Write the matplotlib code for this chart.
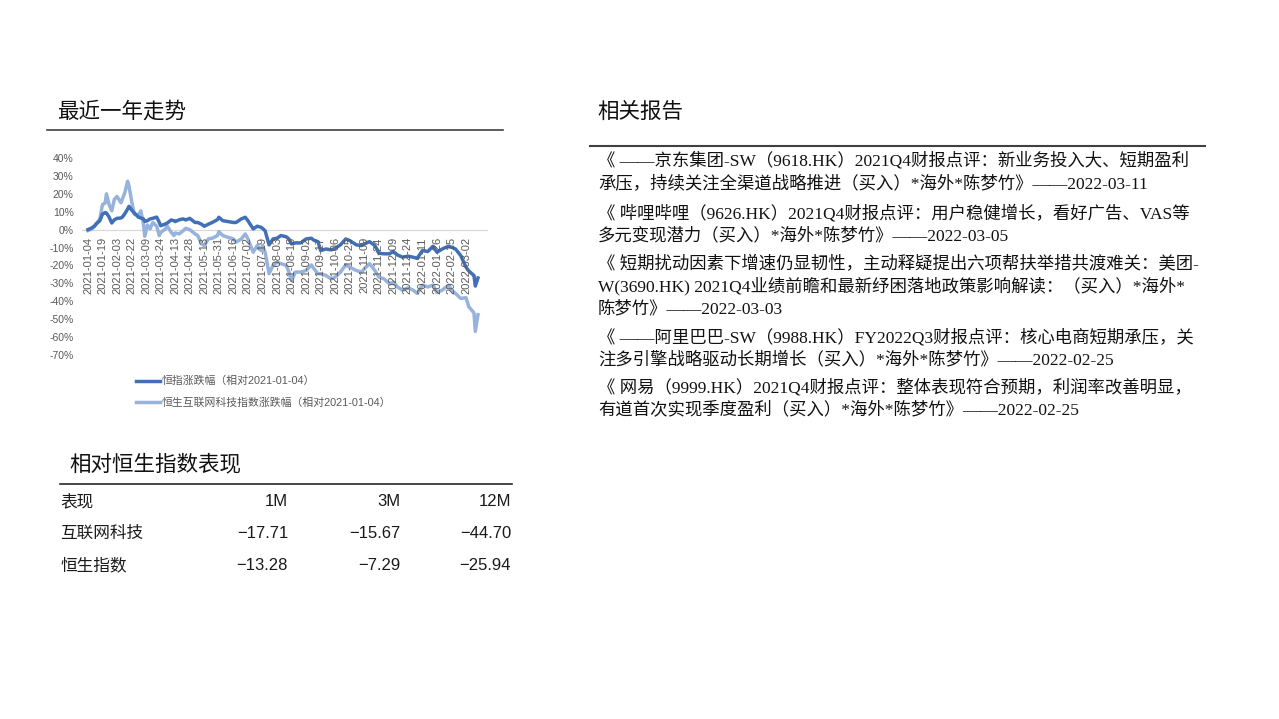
import matplotlib
matplotlib.use('Agg')
import matplotlib.pyplot as plt
from matplotlib.lines import Line2D
from matplotlib.ticker import FuncFormatter

plt.rcParams['font.family'] = ['Liberation Sans', 'Noto Sans CJK SC']
plt.rcParams['axes.unicode_minus'] = False

W, H = 1279, 719

# trading-day index since 2021-01-04 and the readings (%) at those days
day_idx = [0, 3, 5, 6, 9, 11, 13, 14, 16, 18, 20, 22, 25, 26, 28, 30, 31, 33, 35, 37,
           38, 40, 42, 43, 45, 47, 49, 52, 54, 55, 58, 60, 63, 65, 66, 69, 72, 74, 77, 81,
           83, 86, 88, 91, 94, 98, 99, 102, 106, 110, 112, 116, 119, 121, 125, 128, 131, 132, 134, 137,
           140, 143, 146, 150, 152, 154, 157, 161, 165, 169, 171, 174, 176, 180, 184, 187, 191, 195, 198, 203,
           207, 209, 213, 217, 220, 224, 228, 231, 234, 238, 242, 246, 249, 253, 257, 261, 264, 268, 271, 273,
           275, 278, 282, 286, 288, 291, 292, 293, 295]
hsi_pct = [0, 1, 2, 3, 5, 8.7, 9.5, 9.3, 7, 3.7, 5.5, 6.3, 6.5, 7, 9, 11.5, 13, 11, 9.3, 8,
           7, 6.5, 6, 4.6, 5, 6, 6.3, 7, 4, 2.2, 3, 3.7, 5.4, 5, 4.5, 5.5, 6, 5.4, 6.3, 4,
           4, 3, 1.9, 3, 4, 5.6, 6.9, 5, 4.5, 4, 4, 6, 6.9, 5, 0.4, 1.9, 1.3, 0.7, -0.6, -8.5,
           -5.2, -4.8, -3.3, -4, -5.2, -8, -7.4, -7.4, -5.2, -4.8, -6, -6.7, -11.7, -10.8, -11.3, -10.4, -8.5, -5.2, -6.1, -8.5,
           -8.9, -8, -6.7, -8.9, -13.2, -13.5, -13.5, -12.2, -14.1, -15.4, -14.8, -15.4, -16, -11.7, -12.2, -9.3, -12.6, -10.8, -9.8, -9.3,
           -9.8, -10.8, -14.5, -21, -23, -25, -25.6, -31.5, -27]
tech_pct = [-0.5, 0.4, 2, 3, 6, 14, 14.8, 20, 14, 10.5, 17, 18.5, 15, 17, 20.9, 27, 24.5, 16, 8.7, 8,
            7.8, 10.5, 3, -3.7, 2.6, 0.4, 4, 1.9, -3.3, -1.5, 0, 1.9, -1.5, -3.3, -1.9, -2.4, -0.6, 0.7, 0, -2.4,
            -3.3, -8, -8.9, -5.2, -4.8, -3.3, -1.1, -3.3, -4.3, -5.2, -7, -5.2, -2.4, -5.2, -12.6, -8.9, -11.7, -8.9, -12.6, -24.6,
            -20, -18.2, -19, -20, -23.7, -28.4, -23.7, -23.7, -22.8, -19.7, -21.9, -24.6, -24.6, -25.6, -27.5, -26.5, -23.7, -19.7, -21, -22.8,
            -23.7, -21.9, -19, -22.8, -26.5, -27.5, -30.2, -29.3, -32, -33.8, -32.5, -33.8, -35.6, -31, -32, -31, -35.1, -33.8, -32, -31,
            -33.8, -35.6, -38.4, -38, -43, -45.6, -46.6, -56.8, -47.5]

tick_labels = ['2021-01-04', '2021-01-19', '2021-02-03', '2021-02-22', '2021-03-09', '2021-03-24',
               '2021-04-13', '2021-04-28', '2021-05-13', '2021-05-31', '2021-06-16', '2021-07-02',
               '2021-07-19', '2021-08-03', '2021-08-18', '2021-09-02', '2021-09-17', '2021-10-06',
               '2021-10-25', '2021-11-09', '2021-11-24', '2021-12-09', '2021-12-24', '2022-01-11',
               '2022-01-26', '2022-02-15', '2022-03-02']
tick_step = 11

legend_labels = ['恒指涨跌幅（相对2021-01-04）', '恒生互联网科技指数涨跌幅（相对2021-01-04）']

table_cols = ['表现', '1M', '3M', '12M']
table_rows = ['互联网科技', '恒生指数']
table_vals = [['−17.71', '−15.67', '−44.70'],
              ['−13.28', '−7.29', '−25.94']]

reports = [
    ['《 ——京东集团-SW（9618.HK）2021Q4财报点评：新业务投入大、短期盈利',
     '承压，持续关注全渠道战略推进（买入）*海外*陈梦竹》——2022-03-11'],
    ['《 哔哩哔哩（9626.HK）2021Q4财报点评：用户稳健增长，看好广告、VAS等',
     '多元变现潜力（买入）*海外*陈梦竹》——2022-03-05'],
    ['《 短期扰动因素下增速仍显韧性，主动释疑提出六项帮扶举措共渡难关：美团-',
     'W(3690.HK) 2021Q4业绩前瞻和最新纾困落地政策影响解读：（买入）*海外*',
     '陈梦竹》——2022-03-03'],
    ['《 ——阿里巴巴-SW（9988.HK）FY2022Q3财报点评：核心电商短期承压，关',
     '注多引擎战略驱动长期增长（买入）*海外*陈梦竹》——2022-02-25'],
    ['《 网易（9999.HK）2021Q4财报点评：整体表现符合预期，利润率改善明显，',
     '有道首次实现季度盈利（买入）*海外*陈梦竹》——2022-02-25'],
]

dark_blue = '#4270B6'
light_blue = '#97B2DC'
grey = '#595959'


def fx(x):
    return x / W


def fy(y):
    return 1 - y / H


fig = plt.figure(figsize=(W / 100, H / 100), dpi=100)
fig.patch.set_facecolor('white')

# section titles and rules
fig.text(fx(57), fy(112), '最近一年走势', fontsize=15.5, va='center', color='#111111')
fig.add_artist(Line2D([fx(47), fx(503)], [fy(130), fy(130)], color='#404040', lw=1.2))
fig.text(fx(597), fy(112), '相关报告', fontsize=15.5, va='center', color='#111111')
fig.add_artist(Line2D([fx(590), fx(1205)], [fy(146), fy(146)], color='#404040', lw=1.5))
fig.text(fx(69), fy(465), '相对恒生指数表现', fontsize=15.5, va='center', color='#111111')
fig.add_artist(Line2D([fx(60), fx(512)], [fy(484), fy(484)], color='#262626', lw=1.2))

# chart
ax = fig.add_axes([fx(82), fy(355), fx(488 - 82), (355 - 158) / H])
ax.plot(day_idx, [v / 100 for v in tech_pct], color=light_blue, lw=2.5, solid_joinstyle='round')
ax.plot(day_idx, [v / 100 for v in hsi_pct], color=dark_blue, lw=2.5, solid_joinstyle='round')
ax.axhline(0, color='#D9D9D9', lw=0.9, zorder=0)
ax.set_xlim(-4.5, 302.6)
ax.set_ylim(-0.7, 0.4)
ax.set_yticks([i / 10 for i in range(-7, 5)])
ax.yaxis.set_major_formatter(FuncFormatter(lambda v, p: '{:.0f}%'.format(v * 100)))
ax.tick_params(axis='y', length=0, pad=6, labelsize=7.5, labelcolor=grey)
ax.set_xticks([])
for s in ax.spines.values():
    s.set_visible(False)
for i, lab in enumerate(tick_labels):
    ax.text(i * tick_step, -0.042, lab, rotation=90, ha='center', va='top',
            fontsize=8, color=grey)

handles = [Line2D([], [], color=dark_blue, lw=2.5), Line2D([], [], color=light_blue, lw=2.5)]
fig.legend(handles, legend_labels, loc='upper left', bbox_to_anchor=(fx(136), fy(376)),
           frameon=False, fontsize=7.8, labelcolor=grey, handlelength=2.2,
           handletextpad=0.15, labelspacing=1.0, borderpad=0, borderaxespad=0)

# table (baseline-aligned)
col_x = [60, 288, 400, 511]
row_y = [500, 532, 564]
for j, c in enumerate(table_cols):
    fig.text(fx(col_x[j]), fy(row_y[0] + 6), c, fontsize=12, va='baseline',
             ha='left' if j == 0 else 'right', color='#1a1a1a')
for i, r in enumerate(table_rows):
    fig.text(fx(col_x[0]), fy(row_y[i + 1] + 6), r, fontsize=12, va='baseline', color='#1a1a1a')
    for j, v in enumerate(table_vals[i]):
        fig.text(fx(col_x[j + 1]), fy(row_y[i + 1] + 6), v, fontsize=12, va='baseline',
                 ha='right', color='#1a1a1a')

# related reports (baseline-aligned so mixed scripts sit on one line)
item_y = [160, 212, 263, 336, 386]
for k, item in enumerate(reports):
    for n, line in enumerate(item):
        fig.text(fx(598), fy(item_y[k] + n * 22 + 6), line, fontsize=12.5, va='baseline',
                 color='#111111', family=['Liberation Serif', 'Noto Sans CJK SC'])

fig.savefig('out.png', dpi=100, facecolor='white')
